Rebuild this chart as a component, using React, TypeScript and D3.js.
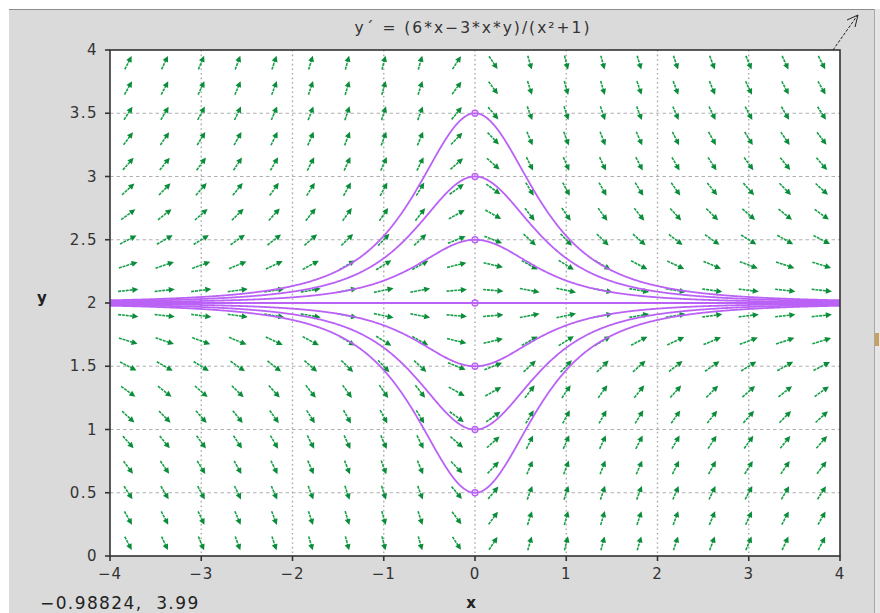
import React from 'react';
import * as d3 from 'd3';

// ---- chart content ----
const TITLE = 'y´ = (6*x−3*x*y)/(x²+1)';
const COORD_TEXT = '−0.98824,  3.99';
const X_LABEL = 'x';
const Y_LABEL = 'y';
const X_TICKS = [-4, -3, -2, -1, 0, 1, 2, 3, 4];
const X_TICK_LABELS = ['−4', '−3', '−2', '−1', '0', '1', '2', '3', '4'];
const Y_TICKS = [0, 0.5, 1, 1.5, 2, 2.5, 3, 3.5, 4];
const Y_TICK_LABELS = ['0', '0.5', '1', '1.5', '2', '2.5', '3', '3.5', '4'];
const X_GRID = [-3, -2, -1, 0, 1, 2, 3];
const Y_GRID = [0.5, 1, 1.5, 2, 2.5, 3, 3.5];
// direction-field sample points
const FIELD_X = [-3.8, -3.4, -3.0, -2.6, -2.2, -1.8, -1.4, -1.0, -0.6, -0.2, 0.2, 0.6, 1.0, 1.4, 1.8, 2.2, 2.6, 3.0, 3.4, 3.8];
const FIELD_Y = [0.1, 0.3, 0.5, 0.7, 0.9, 1.1, 1.3, 1.5, 1.7, 1.9, 2.1, 2.3, 2.5, 2.7, 2.9, 3.1, 3.3, 3.5, 3.7, 3.9];
// trajectory starting points (x = 0)
const START_X = 0;
const START_Y = [3.5, 3, 2.5, 2, 1.5, 1, 0.5];
const X_DOMAIN = [-4, 4];
const Y_DOMAIN = [0, 4];

// the ODE shown in the title
const slope = (x: number, y: number) => (6 * x - 3 * x * y) / (x * x + 1);

function integrate(x0: number, y0: number, xEnd: number, h: number) {
  const pts: [number, number][] = [[x0, y0]];
  let x = x0, y = y0;
  const n = Math.round(Math.abs(xEnd - x0) / h);
  const s = Math.sign(xEnd - x0) * h;
  for (let i = 0; i < n; i++) {
    const k1 = slope(x, y);
    const k2 = slope(x + s / 2, y + (s / 2) * k1);
    const k3 = slope(x + s / 2, y + (s / 2) * k2);
    const k4 = slope(x + s, y + s * k3);
    y += (s / 6) * (k1 + 2 * k2 + 2 * k3 + k4);
    x += s;
    pts.push([x, y]);
  }
  return pts;
}

const W = 880, H = 613;
const M = { left: 110, right: 840, top: 50, bottom: 556 };
const FONT = 'DejaVu Sans, sans-serif';
const GREEN = '#17a048';
const PURPLE = '#bb62f6';

export default function App() {
  const xs = d3.scaleLinear().domain(X_DOMAIN).range([M.left, M.right]);
  const ys = d3.scaleLinear().domain(Y_DOMAIN).range([M.bottom, M.top]);
  const line = d3.line<[number, number]>().x(d => xs(d[0])).y(d => ys(d[1]));

  const cellW = xs(0.4) - xs(0);
  const cellH = ys(0) - ys(0.2);
  const dxCell = 0.4, dyCell = 0.2;

  const arrows: { x1: number; y1: number; x2: number; y2: number; head: string }[] = [];
  FIELD_X.forEach(fx => {
    FIELD_Y.forEach(fy => {
      const f = slope(fx, fy);
      let ux = 1 / dxCell, uy = f / dyCell;
      const n = Math.hypot(ux, uy);
      ux = (ux / n) * 0.56;
      uy = (uy / n) * 0.56;
      const px = ux * cellW, py = -uy * cellH;
      const cx = xs(fx), cy = ys(fy);
      const x1 = cx - px / 2, y1 = cy - py / 2, x2 = cx + px / 2, y2 = cy + py / 2;
      const L = Math.hypot(px, py);
      const ex = px / L, ey = py / L;
      const hl = 6, hw = 3;
      const bx = x2 - ex * hl, by = y2 - ey * hl;
      const head = `M${x2},${y2}L${bx - ey * hw},${by + ex * hw}L${bx + ey * hw},${by - ex * hw}Z`;
      arrows.push({ x1, y1, x2: bx + ex * 1, y2: by + ey * 1, head });
    });
  });

  const trajectories = START_Y.map(y0 => {
    const back = integrate(START_X, y0, X_DOMAIN[0] - 0.05, 0.01).reverse();
    const fwd = integrate(START_X, y0, X_DOMAIN[1] + 0.05, 0.01);
    return back.concat(fwd.slice(1));
  });

  return (
    <svg width={W} height={H} style={{ position: 'absolute', left: 0, top: 0, background: '#fff' }}>
      <defs>
        <clipPath id="plotclip">
          <rect x={M.left} y={M.top} width={M.right - M.left} height={M.bottom - M.top} />
        </clipPath>
      </defs>
      {/* panel */}
      <rect x={9} y={9} width={865} height={H - 9} fill="#dadada" />
      <line x1={9} x2={874} y1={9.5} y2={9.5} stroke="#8c8c8c" strokeWidth={1} />
      <line x1={874.5} x2={874.5} y1={9} y2={H} stroke="#a8a8a8" strokeWidth={1} />
      <rect x={875} y={9} width={5} height={H - 9} fill="#e6e6e6" />
      <rect x={875} y={333} width={4} height={13} fill="#c8a060" />
      {/* plot background */}
      <rect x={M.left} y={M.top} width={M.right - M.left} height={M.bottom - M.top} fill="#fff" />
      {/* grid */}
      {X_GRID.map(v => (
        <line key={'gx' + v} x1={xs(v)} x2={xs(v)} y1={M.top} y2={M.bottom} stroke="#a9a9a9" strokeWidth={1.4} strokeDasharray="1.6,3" />
      ))}
      {Y_GRID.map(v => (
        <line key={'gy' + v} x1={M.left} x2={M.right} y1={ys(v)} y2={ys(v)} stroke="#b0b0b0" strokeWidth={1.2} strokeDasharray="3.5,3" />
      ))}
      {/* direction field */}
      <g>
        {arrows.map((a, i) => (
          <g key={'a' + i}>
            <line x1={a.x1} y1={a.y1} x2={a.x2} y2={a.y2} stroke={GREEN} strokeWidth={1.6} strokeDasharray="3,0.8" />
            <path d={a.head} fill="#0b8c3a" />
          </g>
        ))}
      </g>
      {/* trajectories */}
      <g clipPath="url(#plotclip)">
        {trajectories.map((t, i) => (
          <path key={'t' + i} d={line(t) || ''} fill="none" stroke={PURPLE} strokeWidth={1.8} />
        ))}
        {START_Y.map(y0 => (
          <circle key={'c' + y0} cx={xs(START_X)} cy={ys(y0)} r={3} fill="none" stroke={PURPLE} strokeWidth={1.3} />
        ))}
      </g>
      {/* frame */}
      <rect x={M.left} y={M.top} width={M.right - M.left} height={M.bottom - M.top} fill="none" stroke="#333" strokeWidth={1.6} />
      {/* ticks */}
      {X_TICKS.map((v, i) => (
        <g key={'xt' + v}>
          <line x1={xs(v)} x2={xs(v)} y1={M.bottom} y2={M.bottom + 5} stroke="#333" strokeWidth={1.6} />
          <text x={xs(v)} y={M.bottom + 23} textAnchor="middle" fontFamily={FONT} fontSize={15} fill="#333" letterSpacing={1}>{X_TICK_LABELS[i]}</text>
        </g>
      ))}
      {Y_TICKS.map((v, i) => (
        <g key={'yt' + v}>
          <line x1={M.left - 5} x2={M.left} y1={ys(v)} y2={ys(v)} stroke="#333" strokeWidth={1.6} />
          <text x={M.left - 12} y={ys(v) + 5} textAnchor="end" fontFamily={FONT} fontSize={15} fill="#333" letterSpacing={1.5}>{Y_TICK_LABELS[i]}</text>
        </g>
      ))}
      {/* labels */}
      <text x={42} y={303} textAnchor="middle" fontFamily={FONT} fontSize={15} fontWeight="bold" fill="#222">{Y_LABEL}</text>
      <text x={471} y={608} textAnchor="middle" fontFamily={FONT} fontSize={15} fontWeight="bold" fill="#222">{X_LABEL}</text>
      <text x={473} y={33} textAnchor="middle" fontFamily={FONT} fontSize={15.5} fill="#333" letterSpacing={2} style={{ whiteSpace: 'pre' }}>{TITLE}</text>
      <text x={40} y={609} fontFamily={FONT} fontSize={17} fill="#222" letterSpacing={1.4} style={{ whiteSpace: 'pre' }}>{COORD_TEXT}</text>
      {/* corner arrow */}
      <line x1={833} y1={50} x2={857} y2={16} stroke="#222" strokeWidth={1} strokeDasharray="3,1.5" />
      <path d="M847,20L858,15L855,27" fill="none" stroke="#222" strokeWidth={1} />
    </svg>
  );
}
